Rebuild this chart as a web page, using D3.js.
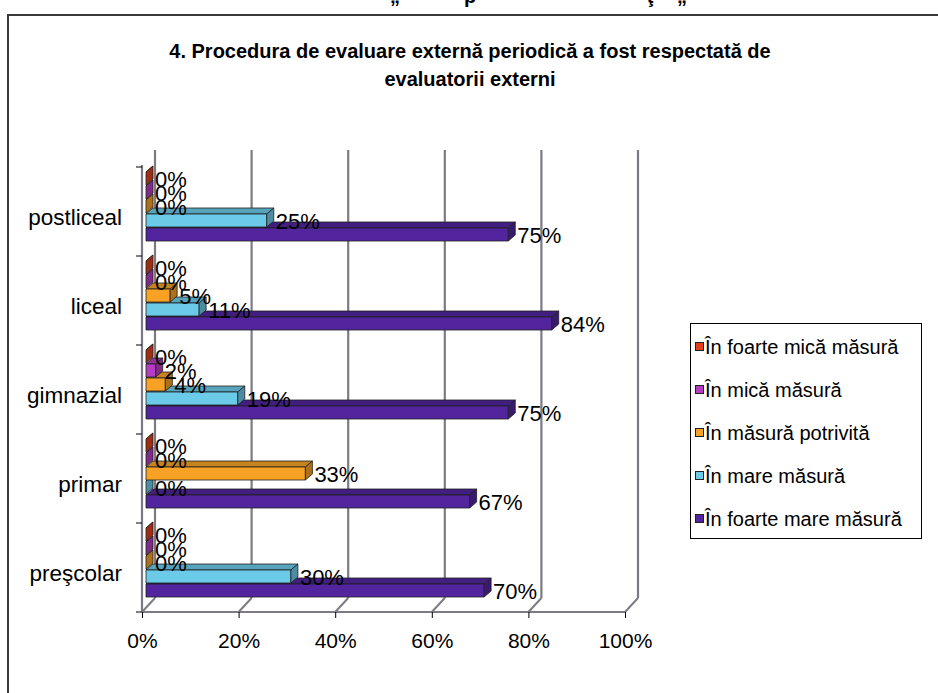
<!DOCTYPE html>
<html>
<head>
<meta charset="utf-8">
<script src="https://cdn.jsdelivr.net/npm/d3@7"></script>
<style>
  html, body { margin: 0; padding: 0; background: #fff; }
  svg { display: block; font-family: "Liberation Sans", Arial, sans-serif; }
</style>
</head>
<body>
<svg id="chart" width="938" height="693"></svg>
<script>
// Categories, top to bottom
const categories = ["postliceal", "liceal", "gimnazial", "primar", "preşcolar"];
// Series (legend order)
const seriesNames = ["În foarte mică măsură", "În mică măsură", "În măsură potrivită", "În mare măsură", "În foarte mare măsură"];
const seriesColors = ["#e2401c", "#b53dc2", "#f7a225", "#6ccae9", "#52259f"];
// Percent values per series, same order as categories
const foarteMica = [0, 0, 0, 0, 0];
const mica = [0, 0, 2, 0, 0];
const potrivita = [0, 5, 4, 33, 0];
const mare = [25, 11, 19, 0, 30];
const foarteMare = [75, 84, 75, 67, 70];
const seriesValues = [foarteMica, mica, potrivita, mare, foarteMare];
const xTicks = [0, 20, 40, 60, 80, 100];

const titleLines = ["4. Procedura de evaluare externă periodică a fost respectată de", "evaluatorii externi"];

const svg = d3.select("#chart");

// Clipped heading line above the frame (only its lowest strokes show)
const headGlyphs = [["„", 395], ["p", 470], ["ţ", 650], ["„", 682]];
svg.selectAll("text.head").data(headGlyphs).join("text")
  .attr("class", "head")
  .attr("x", d => d[1]).attr("y", 3)
  .attr("text-anchor", "middle")
  .attr("font-size", 20).attr("font-weight", "bold")
  .text(d => d[0]);

// Outer frame
svg.append("path")
  .attr("d", "M8,700 L8,15 L945,15")
  .attr("fill", "none").attr("stroke", "#3a3a3a").attr("stroke-width", 2);

// Title
svg.append("g").selectAll("text").data(titleLines).join("text")
  .attr("x", 470).attr("y", (d, i) => 58 + i * 28)
  .attr("text-anchor", "middle")
  .attr("font-size", 20).attr("font-weight", "bold")
  .text(d => d);

// 3D geometry: depth shift between front and back planes
const depthX = 13, depthY = 14;
const xFront = d3.scaleLinear().domain([0, 100]).range([142, 625]);
const xBack = d3.scaleLinear().domain([0, 100]).range([142 + depthX, 625 + depthX]);
const xBar = d3.scaleLinear().domain([0, 100]).range([146, 629]);
const floorY = 612, topY = 167;
const yBand = d3.scaleBand().domain(categories).range([topY, floorY]);
const ySeries = d3.scaleBand().domain(seriesNames).range([5, 75]);
const barH = 13, barDx = 7, barDy = 6;

const walls = svg.append("g");
const wallColor = "#7d7a84";
// Back wall gridlines
walls.selectAll("line.grid").data(xTicks).join("line")
  .attr("x1", d => xBack(d)).attr("x2", d => xBack(d))
  .attr("y1", topY - depthY - 3).attr("y2", floorY - depthY)
  .attr("stroke", wallColor).attr("stroke-width", 2.2);
// Floor diagonals
walls.selectAll("line.floor").data(xTicks).join("line")
  .attr("x1", d => xFront(d)).attr("x2", d => xBack(d))
  .attr("y1", floorY).attr("y2", floorY - depthY)
  .attr("stroke", wallColor).attr("stroke-width", 2);
// Floor front edge
walls.append("line")
  .attr("x1", xFront(0)).attr("x2", xFront(100))
  .attr("y1", floorY).attr("y2", floorY)
  .attr("stroke", wallColor).attr("stroke-width", 2);
// Left wall front edge
walls.append("line")
  .attr("x1", xFront(0)).attr("x2", xFront(0))
  .attr("y1", topY - 2).attr("y2", floorY)
  .attr("stroke", wallColor).attr("stroke-width", 2.2);

// Bars: lowest series first so upper bars overlap the top faces below them
const bars = svg.append("g");
categories.forEach((cat, ci) => {
  for (let si = seriesNames.length - 1; si >= 0; si--) {
    const v = seriesValues[si][ci];
    const x0 = xBar(0), x1 = xBar(v);
    const y0 = yBand(cat) + ySeries(seriesNames[si]);
    const base = d3.color(seriesColors[si]);
    const g = bars.append("g").attr("stroke", "#202020").attr("stroke-width", 0.8).attr("stroke-linejoin", "round");
    // top face
    g.append("path")
      .attr("d", `M${x0},${y0} L${x1},${y0} L${x1 + barDx},${y0 - barDy} L${x0 + barDx},${y0 - barDy} Z`)
      .attr("fill", base.darker(0.6));
    // front face
    g.append("rect")
      .attr("x", x0).attr("y", y0).attr("width", x1 - x0).attr("height", barH)
      .attr("fill", base);
    // end face
    g.append("path")
      .attr("d", `M${x1},${y0} L${x1 + barDx},${y0 - barDy} L${x1 + barDx},${y0 + barH - barDy} L${x1},${y0 + barH} Z`)
      .attr("fill", base.darker(1.0));
  }
});

// Value labels
const labels = svg.append("g").attr("font-size", 22).attr("fill", "#000");
categories.forEach((cat, ci) => {
  seriesNames.forEach((s, si) => {
    const v = seriesValues[si][ci];
    labels.append("text")
      .attr("x", xBar(v) + barDx + 2)
      .attr("y", yBand(cat) + ySeries(s) + barH / 2 + 1)
      .attr("dy", "0.35em")
      .text(v + "%");
  });
});

// Bottom axis
const xAxis = d3.axisBottom(xFront).tickValues(xTicks)
  .tickFormat(d => d + "%").tickSize(6).tickPadding(15);
const axG = svg.append("g").attr("transform", `translate(0,${floorY})`).call(xAxis);
axG.select(".domain").remove();
axG.selectAll(".tick line").attr("stroke", "#000");
axG.selectAll(".tick text").attr("font-size", 21).attr("font-family", "Liberation Sans, Arial, sans-serif").attr("fill", "#000");

// Category axis ticks and labels
const bounds = categories.map(c => yBand(c)).concat([floorY]);
svg.append("g").selectAll("line").data(bounds).join("line")
  .attr("x1", xFront(0) - 6).attr("x2", xFront(0))
  .attr("y1", d => d).attr("y2", d => d)
  .attr("stroke", "#000").attr("stroke-width", 1);
svg.append("g").selectAll("text").data(categories).join("text")
  .attr("x", 122).attr("y", d => yBand(d) + yBand.bandwidth() / 2 + 6)
  .attr("dy", "0.35em")
  .attr("text-anchor", "end")
  .attr("font-size", 22.5)
  .text(d => d);

// Legend
const legend = svg.append("g");
legend.append("rect")
  .attr("x", 690.5).attr("y", 323.5).attr("width", 231).attr("height", 215)
  .attr("fill", "#fff").attr("stroke", "#000").attr("stroke-width", 1);
const ly = d3.scalePoint().domain(seriesNames).range([347, 519]);
const items = legend.selectAll("g.item").data(seriesNames).join("g").attr("class", "item");
items.append("rect")
  .attr("x", 695.5).attr("y", d => ly(d) - 4.5).attr("width", 8).attr("height", 8)
  .attr("fill", (d, i) => seriesColors[i]).attr("stroke", "#202020").attr("stroke-width", 1);
items.append("text")
  .attr("x", 705).attr("y", d => ly(d)).attr("dy", "0.35em")
  .attr("font-size", 20).attr("fill", "#000")
  .text(d => d);
</script>
</body>
</html>
